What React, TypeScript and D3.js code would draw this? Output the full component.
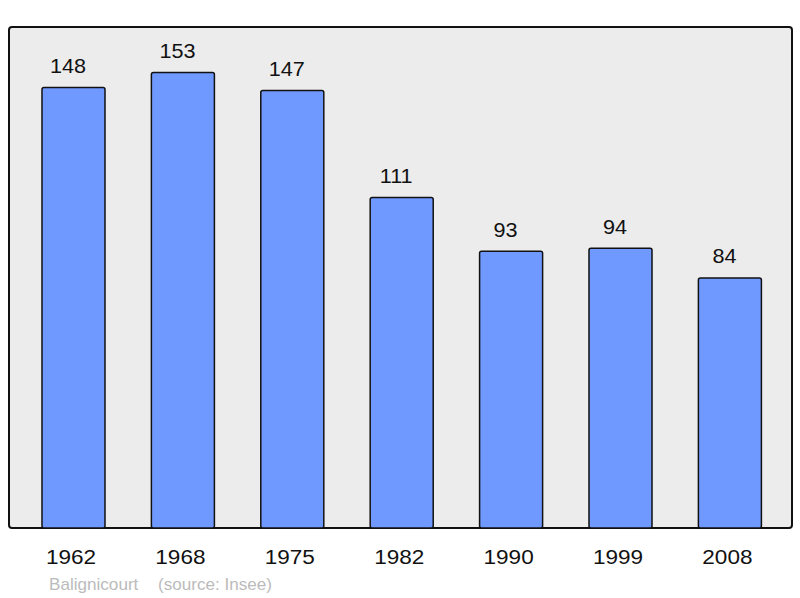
import React from "react";
import * as d3 from "d3";

const years = ["1962", "1968", "1975", "1982", "1990", "1999", "2008"];
const population = [148, 153, 147, 111, 93, 94, 84];
const townName = "Balignicourt";
const sourceText = "(source: Insee)";

export default function App() {
  const W = 800, H = 598;
  const panel = { x: 9, y: 27, w: 783, h: 501 };
  const x = d3.scaleBand<string>()
    .domain(years)
    .range([18.8, 784.6])
    .paddingInner(0.424)
    .paddingOuter(0.212);
  const y = d3.scaleLinear()
    .domain([0, (d3.max(population) as number) * 1.1])
    .range([panel.y + panel.h, panel.y]);
  const font = "'Liberation Sans', Arial, sans-serif";
  return (
    <svg width={W} height={H} style={{ position: "absolute", left: 0, top: 0 }}>
      <rect x={panel.x} y={panel.y} width={panel.w} height={panel.h} rx={3} ry={3}
        fill="#ececec" stroke="#111" strokeWidth={2} />
      {years.map((yr, i) => {
        const v = population[i];
        const bx = x(yr) as number;
        const by = y(v);
        const cx = bx + x.bandwidth() / 2;
        return (
          <g key={yr}>
            <rect x={bx} y={by} width={x.bandwidth()} height={y(0) - by} rx={2} ry={2}
              fill="#7099ff" stroke="#111" strokeWidth={1.5} />
            <text transform={`translate(${cx - 5.5},${by - 14.5}) scale(1.08,1)`} textAnchor="middle"
              fontFamily={font} fontSize={20} fill="#111">{v}</text>
            <text transform={`translate(${cx - 2.5},563.5) scale(1.1,1)`} textAnchor="middle"
              fontFamily={font} fontSize={20.5} fill="#111">{yr}</text>
          </g>
        );
      })}
      <text transform="translate(49,590) scale(1.07,1)" fontFamily={font} fontSize={16} fill="#bbbbbb">{townName}</text>
      <text transform="translate(158,590) scale(1.07,1)" fontFamily={font} fontSize={16} fill="#bbbbbb">{sourceText}</text>
    </svg>
  );
}
